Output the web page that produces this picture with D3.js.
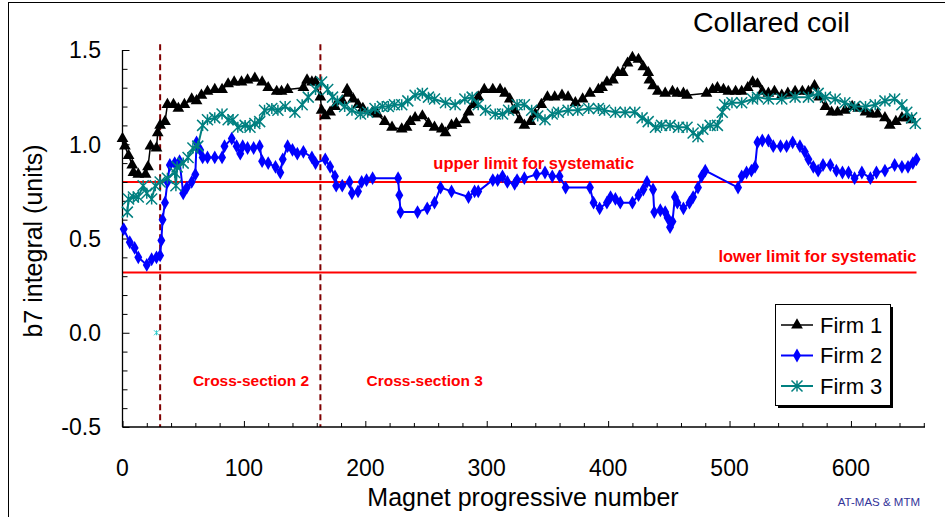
<!DOCTYPE html>
<html><head><meta charset="utf-8">
<script src="https://cdn.jsdelivr.net/npm/d3@7"></script>
<style>body{margin:0;background:#fff}svg{display:block}text{font-family:"Liberation Sans",Arial,sans-serif}</style>
</head><body>
<svg id="c" width="945" height="517"></svg>
<script>
// ---- data ----
const firm1X = [0,2,5,8,9,13,19,21,23,28,29,31,35,37,42,46,51,57,61,65,70,76,82,87,92,98,103,109,115,120,127,131,136,149,152,156,159,163,164,167,171,175,181,185,186,190,194,198,206,210,216,222,230,234,237,241,247,252,257,263,266,271,275,282,285,289,293,298,305,311,315,319,323,327,331,336,340,345,350,356,362,367,373,379,385,392,395,399,404,408,412,416,420,425,429,433,434,437,441,447,453,457,462,465,481,486,490,495,499,505,510,515,519,523,527,532,537,543,548,554,560,565,570,574,579,584,589,595,601,606,612,617,622,628,632,637,642,646,650];
const firm1Y = [1.03,0.99,0.94,0.89,0.85,0.84,0.84,0.88,0.99,0.98,1.06,1.10,1.12,1.21,1.21,1.19,1.21,1.24,1.23,1.26,1.28,1.29,1.29,1.32,1.33,1.33,1.34,1.35,1.33,1.30,1.28,1.28,1.29,1.30,1.34,1.33,1.33,1.25,1.18,1.15,1.17,1.20,1.23,1.29,1.27,1.24,1.21,1.19,1.17,1.16,1.12,1.09,1.08,1.09,1.12,1.14,1.15,1.11,1.09,1.08,1.06,1.10,1.11,1.13,1.17,1.21,1.25,1.29,1.29,1.29,1.27,1.24,1.18,1.13,1.10,1.12,1.16,1.21,1.25,1.25,1.26,1.25,1.22,1.24,1.27,1.29,1.30,1.33,1.34,1.38,1.38,1.43,1.46,1.45,1.41,1.38,1.34,1.31,1.28,1.27,1.28,1.27,1.27,1.26,1.27,1.29,1.30,1.29,1.28,1.28,1.28,1.30,1.33,1.32,1.28,1.27,1.28,1.26,1.27,1.28,1.28,1.28,1.31,1.25,1.20,1.17,1.17,1.18,1.20,1.19,1.17,1.16,1.16,1.14,1.10,1.12,1.14,1.14,1.13];

const firm2X = [1,6,10,13,20,24,28,31,32,33,35,37,39,43,47,50,53,57,60,61,64,66,70,76,82,84,90,94,97,99,103,108,113,115,120,126,130,132,136,140,144,149,156,159,167,171,175,176,181,187,189,194,197,201,206,227,228,229,243,251,257,262,271,285,290,293,305,309,313,317,323,325,331,341,348,354,360,365,385,388,393,399,402,406,410,420,425,429,432,437,438,443,447,449,451,453,455,457,462,467,470,474,477,480,507,510,514,518,521,523,527,532,536,542,547,552,558,562,565,569,573,577,583,588,593,598,603,609,616,621,628,636,642,647,651,654];
const firm2Y = [0.55,0.48,0.45,0.40,0.36,0.39,0.40,0.41,0.49,0.60,0.69,0.80,0.89,0.90,0.91,0.74,0.77,0.80,0.84,1.01,0.97,0.93,0.93,0.93,0.93,0.99,1.03,0.99,0.95,0.99,0.98,0.98,0.99,0.91,0.90,0.88,0.85,0.92,0.99,0.97,0.95,0.96,0.93,0.90,0.92,0.88,0.83,0.78,0.78,0.80,0.74,0.75,0.80,0.81,0.82,0.82,0.73,0.64,0.64,0.66,0.69,0.77,0.75,0.72,0.75,0.75,0.81,0.81,0.83,0.80,0.79,0.81,0.82,0.84,0.85,0.83,0.83,0.77,0.77,0.69,0.66,0.69,0.72,0.71,0.69,0.69,0.73,0.76,0.80,0.76,0.64,0.65,0.64,0.61,0.56,0.59,0.72,0.69,0.66,0.69,0.72,0.77,0.83,0.86,0.77,0.83,0.85,0.86,0.88,1.01,1.02,1.02,0.99,0.99,0.99,1.01,0.99,0.96,0.92,0.88,0.86,0.89,0.89,0.86,0.85,0.85,0.82,0.85,0.82,0.85,0.86,0.89,0.88,0.88,0.90,0.92];

const firm3X = [4,5,9,13,17,20,24,27,31,37,43,44,45,50,54,58,62,66,70,76,82,87,91,95,101,105,109,113,117,123,128,134,142,148,153,159,164,169,173,177,183,189,196,202,208,214,219,224,230,235,241,247,252,257,266,274,282,288,293,299,307,313,318,325,331,337,342,348,354,359,367,375,384,392,397,406,414,422,428,433,439,444,451,458,465,470,474,478,484,490,494,496,502,510,519,523,532,543,554,565,573,579,587,595,603,612,620,628,636,642,646,650,653];
const firm3Y = [0.64,0.71,0.72,0.72,0.78,0.74,0.71,0.78,0.80,0.82,0.85,0.78,0.88,0.90,0.93,0.98,0.99,1.10,1.13,1.14,1.16,1.13,1.13,1.09,1.10,1.09,1.11,1.12,1.18,1.19,1.18,1.20,1.17,1.21,1.25,1.29,1.33,1.29,1.25,1.23,1.20,1.18,1.16,1.17,1.19,1.20,1.20,1.21,1.21,1.23,1.26,1.27,1.25,1.24,1.22,1.21,1.24,1.25,1.21,1.18,1.16,1.16,1.18,1.21,1.21,1.18,1.15,1.13,1.16,1.17,1.18,1.18,1.19,1.19,1.18,1.17,1.17,1.17,1.14,1.12,1.09,1.10,1.10,1.09,1.09,1.06,1.04,1.08,1.10,1.10,1.17,1.21,1.22,1.22,1.24,1.25,1.24,1.24,1.25,1.25,1.27,1.25,1.24,1.22,1.20,1.20,1.21,1.23,1.24,1.21,1.17,1.14,1.11];
const firm3OutlierX = [28];
const firm3OutlierY = [0.0];

const seriesNames = ["Firm 1","Firm 2","Firm 3"];
const limitValues = [0.8, 0.32];
const limitLabels = ["upper limit for systematic","lower limit for systematic"];
const sectionBounds = [31, 163];
const sectionLabels = ["Cross-section 2","Cross-section 3"];
const xTicks = [0,100,200,300,400,500,600];
const yTicks = [-0.5,0.0,0.5,1.0,1.5];

// ---- layout ----
const svg = d3.select("#c");
const x = d3.scaleLinear().domain([0,661]).range([122.5,925]);
const y = d3.scaleLinear().domain([-0.5,1.5]).range([427,50]);

// outer frame
svg.append("rect").attr("x",8.5).attr("y",2.5).attr("width",960).attr("height",530)
  .attr("fill","none").attr("stroke","#000").attr("stroke-width",1);

// limit lines
const limitEnd = 654;
limitValues.forEach(v=>{
  svg.append("line").attr("x1",x(0)).attr("x2",x(limitEnd)).attr("y1",y(v)).attr("y2",y(v))
    .attr("stroke","#ff0000").attr("stroke-width",2);
});
svg.append("text").attr("x",x(256)).attr("y",y(limitValues[0])-13).text(limitLabels[0])
  .attr("fill","#ff0000").attr("font-weight","bold").attr("font-size",16.5);
svg.append("text").attr("x",x(654)).attr("y",y(limitValues[1])-10).attr("text-anchor","end").text(limitLabels[1])
  .attr("fill","#ff0000").attr("font-weight","bold").attr("font-size",16.5);

// section dashed lines
sectionBounds.forEach(v=>{
  svg.append("line").attr("x1",x(v)).attr("x2",x(v)).attr("y1",y(1.53)).attr("y2",y(-0.5))
    .attr("stroke","#800000").attr("stroke-width",2).attr("stroke-dasharray","6,4");
});
svg.append("text").attr("x",x(58)).attr("y",386).text(sectionLabels[0])
  .attr("fill","#ff0000").attr("font-weight","bold").attr("font-size",15.5);
svg.append("text").attr("x",x(201)).attr("y",386).text(sectionLabels[1])
  .attr("fill","#ff0000").attr("font-weight","bold").attr("font-size",15.5);

// axes
const yAxis = d3.axisRight(y).tickValues(d3.range(-5,16).map(d=>d/10)).tickSize(4).tickFormat("");
const gy = svg.append("g").attr("transform",`translate(${x(0)},0)`).call(yAxis);
gy.selectAll(".tick line").attr("x2",d=>Math.abs(Math.round(d*10)%5)===0?7:5);
gy.select(".domain").attr("d",`M0,${y(1.5)}V${y(-0.5)}`);
const xAxis = d3.axisTop(x).tickValues(d3.range(0,661,20)).tickSize(4).tickFormat("");
const gx = svg.append("g").attr("transform",`translate(0,${y(-0.5)})`).call(xAxis);
gx.selectAll(".tick line").attr("y2",d=>d%100===0?-6:-4);
gx.select(".domain").attr("d",`M${x(0)},0H${x(661)}`);
svg.selectAll(".domain").attr("stroke","#000").attr("stroke-width",1.3);
svg.selectAll(".tick line").attr("stroke","#000");

svg.append("g").selectAll("text").data(yTicks).join("text")
  .attr("x",101).attr("y",d=>y(d)).attr("dy","0.36em").attr("text-anchor","end")
  .attr("font-size",23).text(d=>d.toFixed(1));
svg.append("g").selectAll("text").data(xTicks).join("text")
  .attr("x",d=>x(d)).attr("y",476).attr("text-anchor","middle")
  .attr("font-size",23).text(d=>d);

svg.append("text").attr("x",523).attr("y",506).attr("text-anchor","middle")
  .attr("font-size",25).text("Magnet progressive number");
svg.append("text").attr("transform","translate(42,241) rotate(-90)").attr("text-anchor","middle")
  .attr("font-size",25).text("b7 integral (units)");
svg.append("text").attr("x",693).attr("y",32).attr("font-size",28.5).text("Collared coil");
svg.append("text").attr("x",920).attr("y",506).attr("text-anchor","end")
  .attr("font-size",11.5).attr("fill","#333399").text("AT-MAS & MTM");

// markers
const tri = d3.symbol().type(d3.symbolTriangle).size(60);
const dia = d3.symbol().type(d3.symbolDiamond).size(55);
const star = r => `M0,${-r}V${r}M${-r},${-r}L${r},${r}M${-r},${r}L${r},${-r}`;

function series(xs, ys, color, lw){
  const pts = xs.map((d,i)=>[d,ys[i]]);
  svg.append("path").datum(pts)
    .attr("d",d3.line().x(d=>x(d[0])).y(d=>y(d[1])))
    .attr("fill","none").attr("stroke",color).attr("stroke-width",lw);
  return pts;
}
const p1 = series(firm1X, firm1Y, "#000", 1.5);
svg.append("g").selectAll("path").data(p1).join("path")
  .attr("transform",d=>`translate(${x(d[0])},${y(d[1])})`).attr("d",tri).attr("fill","#000");
const p2 = series(firm2X, firm2Y, "#0000ff", 2);
svg.append("g").selectAll("path").data(p2).join("path")
  .attr("transform",d=>`translate(${x(d[0])},${y(d[1])})`).attr("d",dia).attr("fill","#0000ff");
const p3 = series(firm3X, firm3Y, "#008080", 2);
svg.append("g").selectAll("path").data(p3).join("path")
  .attr("transform",d=>`translate(${x(d[0])},${y(d[1])})`).attr("d",star(5.5))
  .attr("fill","none").attr("stroke","#008080").attr("stroke-width",1.5);
svg.append("g").selectAll("path").data(firm3OutlierX.map((d,i)=>[d,firm3OutlierY[i]])).join("path")
  .attr("transform",d=>`translate(${x(d[0])},${y(d[1])})`).attr("d",star(2.5))
  .attr("fill","none").attr("stroke","#33cccc").attr("stroke-width",1);

// legend
const lg = svg.append("g").attr("transform","translate(775,304)");
lg.append("rect").attr("x",3).attr("y",3).attr("width",115).attr("height",101).attr("fill","#000");
lg.append("rect").attr("x",0.5).attr("y",0.5).attr("width",115).attr("height",101).attr("fill","#fff").attr("stroke","#000");
const colors = ["#000","#0000ff","#008080"];
seriesNames.forEach((n,i)=>{
  const yy = 21 + i*30.5;
  lg.append("line").attr("x1",6).attr("x2",38).attr("y1",yy).attr("y2",yy).attr("stroke",colors[i]).attr("stroke-width",i===0?1.5:2);
  const m = lg.append("path").attr("transform",`translate(22,${yy})`);
  if(i===0) m.attr("d",tri).attr("fill","#000");
  else if(i===1) m.attr("d",dia).attr("fill","#0000ff");
  else m.attr("d",star(5.5)).attr("fill","none").attr("stroke","#008080").attr("stroke-width",1.5);
  lg.append("text").attr("x",45).attr("y",yy).attr("dy","0.36em").attr("font-size",22).text(n);
});
</script>
</body></html>
